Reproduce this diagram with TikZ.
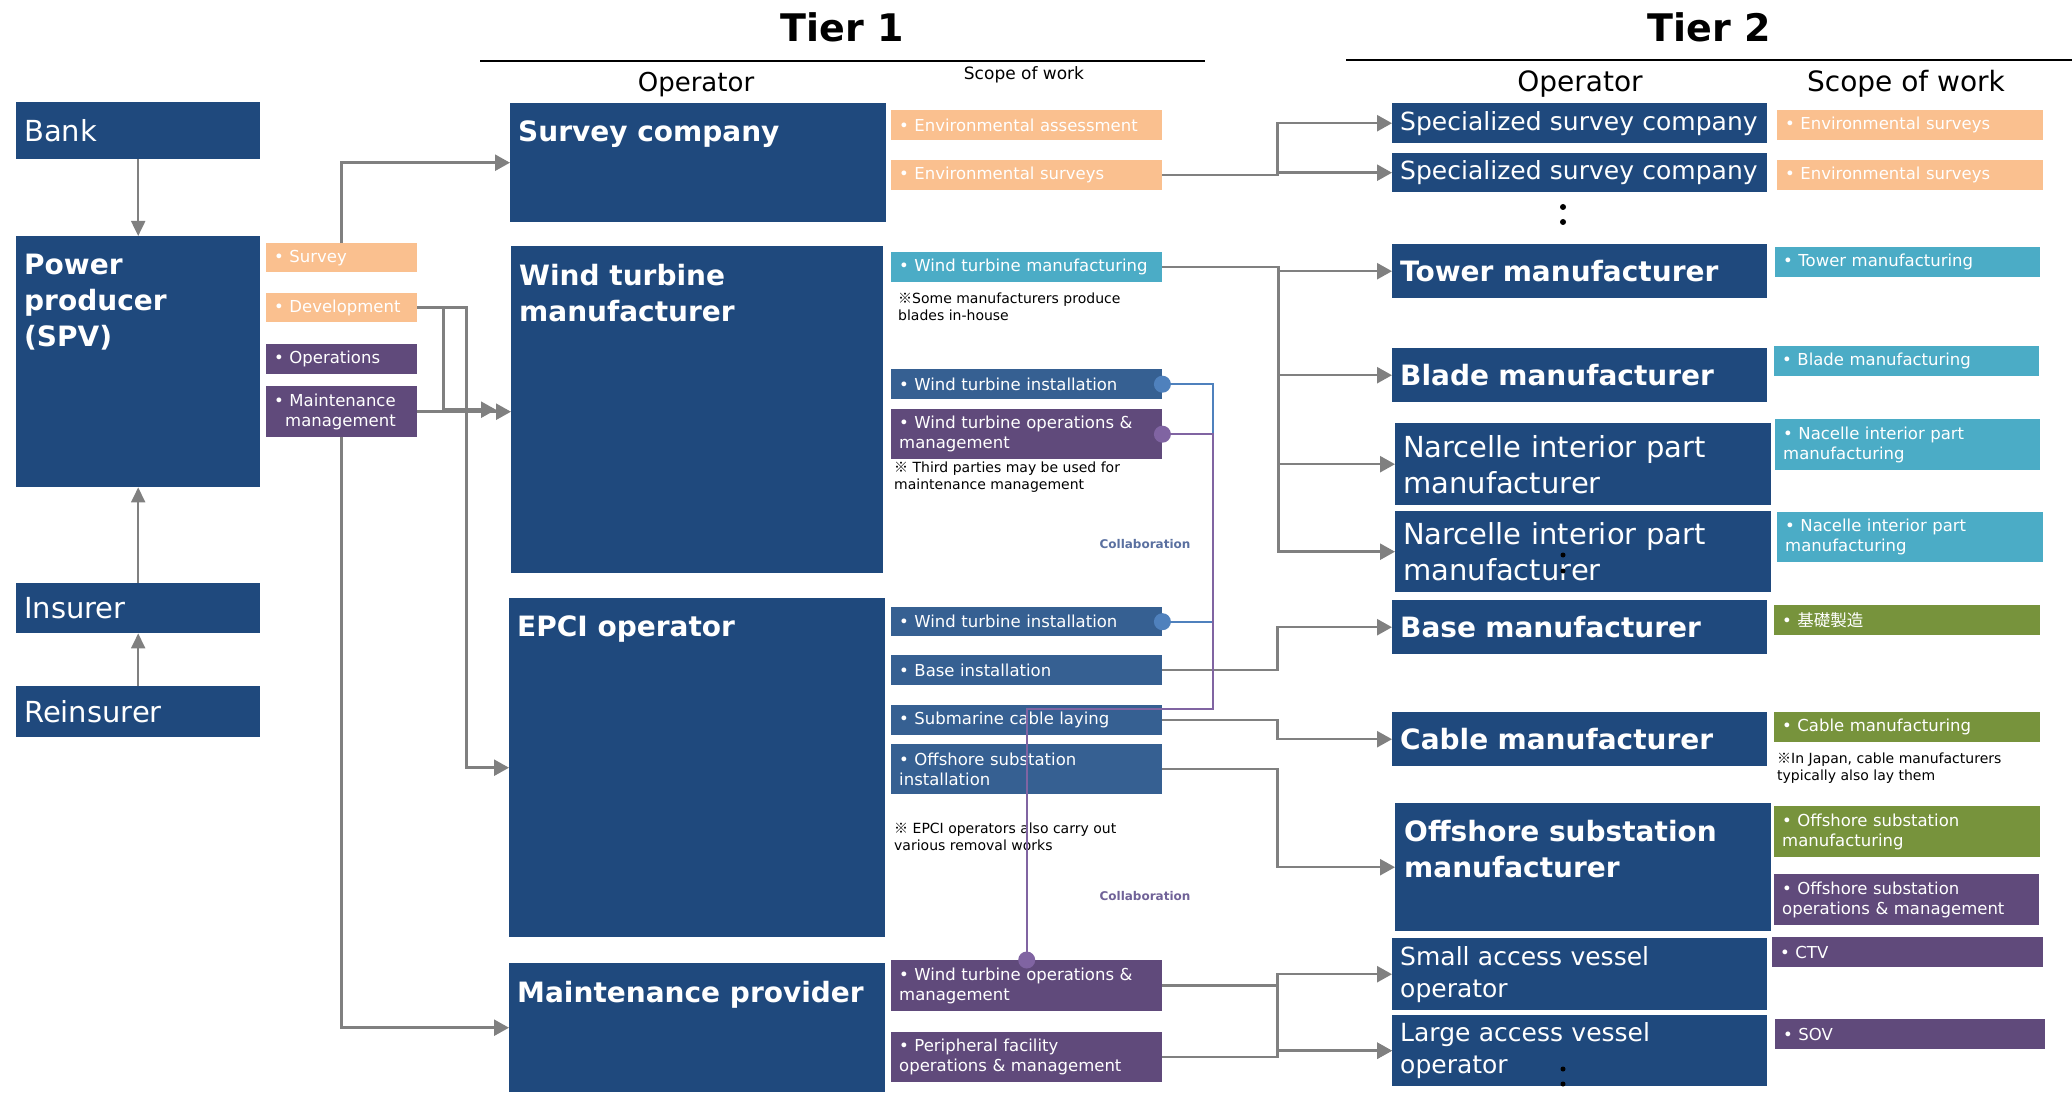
\documentclass[tikz,border=0pt]{standalone}
\usepackage{fontspec}
\setmainfont{DejaVu Sans}
\newfontfamily\cjk{Noto Sans CJK JP}
\usetikzlibrary{arrows.meta}
\definecolor{navy}{RGB}{31,73,125}
\definecolor{midblue}{RGB}{54,96,146}
\definecolor{peach}{RGB}{250,192,143}
\definecolor{tealbox}{RGB}{75,172,198}
\definecolor{plum}{RGB}{96,74,123}
\definecolor{grass}{RGB}{119,147,60}
\definecolor{linegray}{RGB}{128,128,128}
\definecolor{collabblue}{RGB}{79,129,189}
\definecolor{collabpurple}{RGB}{128,100,162}
\definecolor{collabtextA}{RGB}{90,112,160}
\definecolor{collabtextB}{RGB}{112,98,152}
\begin{document}
\begin{tikzpicture}[x=1pt, y=-1pt,
        opbox/.style 2 args={fill=navy, anchor=north west, inner xsep=8pt, inner ysep=0pt,
            minimum width=#1pt, text width=#1pt-16pt, minimum height=#2pt, text=white, align=left},
        work/.style n args={3}{fill=#1, anchor=north west, inner xsep=8pt, inner ysep=0pt,
            minimum width=#2pt, text width=#2pt-16pt, minimum height=#3pt, text=white, align=left,
            font=\fontsize{16.5}{20}\selectfont},
        optitle/.style={anchor=north west, inner sep=0pt, text=white, align=left,
            font=\fontsize{28}{36}\selectfont\bfseries},
        note/.style={anchor=north west, inner sep=0pt, align=left, font=\fontsize{14}{17}\selectfont},
        collab/.style={font=\fontsize{12}{14}\selectfont\bfseries, anchor=base},
        arrow/.style={-{Triangle[length=15pt, width=16pt]}, line width=2.5pt, draw=linegray},
        thinarrow/.style={-{Triangle[length=15pt, width=14pt]}, line width=2pt, draw=linegray},
        link/.style={line width=2pt},
        dot/.style={radius=8.5pt}
    ]
        \useasboundingbox (0,0) rectangle (2072,1094);

        % Headers
        \node[anchor=base, font=\fontsize{38}{40}\selectfont\bfseries] (tier1) at (842,42) {Tier 1};
        \node[anchor=base, font=\fontsize{38}{40}\selectfont\bfseries] (tier2) at (1709,42) {Tier 2};
        \draw[line width=2pt] (480,61) -- (1205,61);
        \draw[line width=2pt] (1346,60) -- (2072,60);
        \node[anchor=base, font=\fontsize{26}{30}\selectfont] (op1) at (696,92) {Operator};
        \node[anchor=base, font=\fontsize{17}{20}\selectfont] (sow1) at (1024,80) {Scope of work};
        \node[anchor=base, font=\fontsize{28}{32}\selectfont] (op2) at (1580,92) {Operator};
        \node[anchor=base, font=\fontsize{28}{32}\selectfont] (sow2) at (1906,92) {Scope of work};

        % Financing side
        \node[opbox={244}{57}, font=\fontsize{29}{34}\selectfont] (bank) at (16,102) {Bank};
        \node[opbox={244}{251}] (spv) at (16,236) {};
        \node[optitle] (spvT) at ([xshift=8pt,yshift=-18pt]spv.north west) {Power\\producer\\(SPV)};
        \node[opbox={244}{50}, font=\fontsize{29}{34}\selectfont] (insurer) at (16,583) {Insurer};
        \node[opbox={244}{51}, font=\fontsize{29}{34}\selectfont] (reins) at (16,686) {Reinsurer};
        \draw[thinarrow] (bank.south) -- (spv.north);
        \draw[thinarrow] (insurer.north) -- (spv.south);
        \draw[thinarrow] (reins.north) -- (insurer.south);

        % SPV tasks
        \node[work={peach}{151}{29}] (survey) at (266,243) {•\ Survey};
        \node[work={peach}{151}{29}] (dev) at (266,293) {•\ Development};
        \node[work={plum}{151}{30}] (ops) at (266,344) {•\ Operations};
        \node[work={plum}{151}{51}] (maint) at (266,386) {•\ Maintenance\\\hspace*{11pt}management};

        % Tier 1 operators
        \node[opbox={376}{119}] (surveyco) at (510,103) {};
        \node[optitle] (surveycoT) at ([xshift=8pt,yshift=-18pt]surveyco.north west) {Survey company};
        \node[opbox={372}{327}] (wtm) at (511,246) {};
        \node[optitle] (wtmT) at ([xshift=8pt,yshift=-18pt]wtm.north west) {Wind turbine\\manufacturer};
        \node[opbox={376}{339}] (epci) at (509,598) {};
        \node[optitle] (epciT) at ([xshift=8pt,yshift=-18pt]epci.north west) {EPCI operator};
        \node[opbox={376}{129}] (mprov) at (509,963) {};
        \node[optitle] (mprovT) at ([xshift=8pt,yshift=-18pt]mprov.north west) {Maintenance provider};

        % Tier 1 scope of work
        \node[work={peach}{271}{30}] (envA) at (891,110) {•\ Environmental assessment};
        \node[work={peach}{271}{30}] (envS) at (891,160) {•\ Environmental surveys};
        \node[work={tealbox}{271}{30}] (wtmfg) at (891,252) {•\ Wind turbine manufacturing};
        \node[note] (noteBlade) at (898,293) {{\cjk ※}Some manufacturers produce\\blades in-house};
        \node[work={midblue}{271}{30}] (wtiA) at (891,369) {•\ Wind turbine installation};
        \node[work={plum}{271}{50}] (wtomA) at (891,409) {•\ Wind turbine operations \&\\management};
        \node[note] (noteThird) at (894,462) {{\cjk ※} Third parties may be used for\\maintenance management};
        \node[work={midblue}{271}{29}] (wtiB) at (891,607) {•\ Wind turbine installation};
        \node[work={midblue}{271}{30}] (baseinst) at (891,655) {•\ Base installation};
        \node[work={midblue}{271}{30}] (cablelay) at (891,705) {•\ Submarine cable laying};
        \node[work={midblue}{271}{50}] (ossinst) at (891,744) {•\ Offshore substation\\installation};
        \node[note] (noteEpci) at (894,823) {{\cjk ※} EPCI operators also carry out\\various removal works};
        \node[work={plum}{271}{51}] (wtomB) at (891,960) {•\ Wind turbine operations \&\\management};
        \node[work={plum}{271}{50}] (periph) at (891,1032) {•\ Peripheral facility\\operations \& management};
        \node[collab, text=collabtextA] (collabA) at (1145,548) {Collaboration};
        \node[collab, text=collabtextB] (collabB) at (1145,900) {Collaboration};

        % Tier 2 operators
        \node[opbox={375}{40}, font=\fontsize{25}{32}\selectfont] (spec1) at (1392,103) {Specialized survey company};
        \node[opbox={375}{39}, font=\fontsize{25}{32}\selectfont] (spec2) at (1392,153) {Specialized survey company};
        \node[opbox={375}{54}, font=\fontsize{28}{36}\selectfont\bfseries] (tower) at (1392,244) {Tower manufacturer};
        \node[opbox={375}{54}, font=\fontsize{28}{36}\selectfont\bfseries] (blade) at (1392,348) {Blade manufacturer};
        \node[opbox={376}{82}, font=\fontsize{29}{36}\selectfont] (narc1) at (1395,423) {Narcelle interior part\\manufacturer};
        \node[opbox={376}{81}, font=\fontsize{29}{36}\selectfont] (narc2) at (1395,511) {Narcelle interior part\\manufacturer};
        \node[opbox={375}{54}, font=\fontsize{28}{36}\selectfont\bfseries] (basemf) at (1392,600) {Base manufacturer};
        \node[opbox={375}{54}, font=\fontsize{28}{36}\selectfont\bfseries] (cablemf) at (1392,712) {Cable manufacturer};
        \node[opbox={376}{128}] (ossmf) at (1395,803) {};
        \node[optitle] (ossmfT) at ([xshift=9pt,yshift=-17pt]ossmf.north west) {Offshore substation\\manufacturer};
        \node[opbox={375}{72}, font=\fontsize{25}{32}\selectfont] (small) at (1392,938) {Small access vessel\\operator};
        \node[opbox={375}{71}, font=\fontsize{25}{32}\selectfont] (large) at (1392,1015) {Large access vessel\\operator};
        \fill (1563,207) circle (3pt) (1563,222) circle (3pt);
        \fill (1563,555) circle (2.5pt) (1563,571) circle (2.5pt);
        \fill (1563,1069) circle (2.5pt) (1563,1084) circle (2.5pt);

        % Tier 2 scope of work
        \node[work={peach}{266}{30}] (es1) at (1777,110) {•\ Environmental surveys};
        \node[work={peach}{266}{30}] (es2) at (1777,160) {•\ Environmental surveys};
        \node[work={tealbox}{265}{30}] (towmf) at (1775,247) {•\ Tower manufacturing};
        \node[work={tealbox}{265}{30}] (blmf) at (1774,346) {•\ Blade manufacturing};
        \node[work={tealbox}{265}{51}] (nac1) at (1775,419) {•\ Nacelle interior part\\manufacturing};
        \node[work={tealbox}{266}{50}] (nac2) at (1777,512) {•\ Nacelle interior part\\manufacturing};
        \node[work={grass}{266}{30}] (kiso) at (1774,605) {•\ {\cjk 基礎製造}};
        \node[work={grass}{266}{30}] (cabmf) at (1774,712) {•\ Cable manufacturing};
        \node[note] (noteCable) at (1777,753) {{\cjk ※}In Japan, cable manufacturers\\typically also lay them};
        \node[work={grass}{266}{51}] (ossm) at (1774,806) {•\ Offshore substation\\manufacturing};
        \node[work={plum}{265}{51}] (osso) at (1774,874) {•\ Offshore substation\\operations \& management};
        \node[work={plum}{271}{30}] (ctv) at (1772,937) {•\ CTV};
        \node[work={plum}{270}{30}] (sov) at (1775,1019) {•\ SOV};

        % SPV to tier 1
        \draw[arrow] (survey.north) |- (surveyco.west);
        \draw[arrow, shorten >=15pt] (dev.east) -- ++(26,0) |- (wtm.west);
        \draw[arrow] (maint.east) -- (maint.east -| wtm.west);
        \draw[arrow] (dev.east) -- ++(49,0) |- (epci.west);
        \draw[arrow] (maint.south) |- (mprov.west);

        % Tier 1 to tier 2
        \draw[arrow] (envS.east) -- ++(115,0) |- (spec1.west);
        \draw[arrow] (envS.east) -- ++(115,0) |- (spec2.west);
        \draw[arrow] (wtmfg.east) -- ++(116,0) |- (tower.west);
        \draw[arrow] (wtmfg.east) -- ++(116,0) |- (blade.west);
        \draw[arrow] (wtmfg.east) -- ++(116,0) |- (narc1.west);
        \draw[arrow] (wtmfg.east) -- ++(116,0) |- (narc2.west);
        \draw[arrow] (baseinst.east) -- ++(115,0) |- (basemf.west);
        \draw[arrow] (cablelay.east) -- ++(115,0) |- (cablemf.west);
        \draw[arrow] (ossinst.east) -- ++(115,0) |- (ossmf.west);
        \draw[arrow] (wtomB.east) -- ++(115,0) |- (small.west);
        \draw[arrow] (wtomB.east) -- ++(115,0) |- (large.west);
        \draw[arrow] (periph.east) -- ++(115,0) |- (large.west);

        % Collaboration links
        \draw[link, collabblue] (wtiA.east) -- ++(51,0) |- (wtiB.east);
        \draw[link, collabpurple] (wtomA.east) -| (1213,709) -| (wtomB.north);
        \fill[collabblue] (wtiA.east) circle[dot];
        \fill[collabblue] (wtiB.east) circle[dot];
        \fill[collabpurple] (wtomA.east) circle[dot];
        \fill[collabpurple] (wtomB.north) circle[dot];
    \end{tikzpicture}
\end{document}
